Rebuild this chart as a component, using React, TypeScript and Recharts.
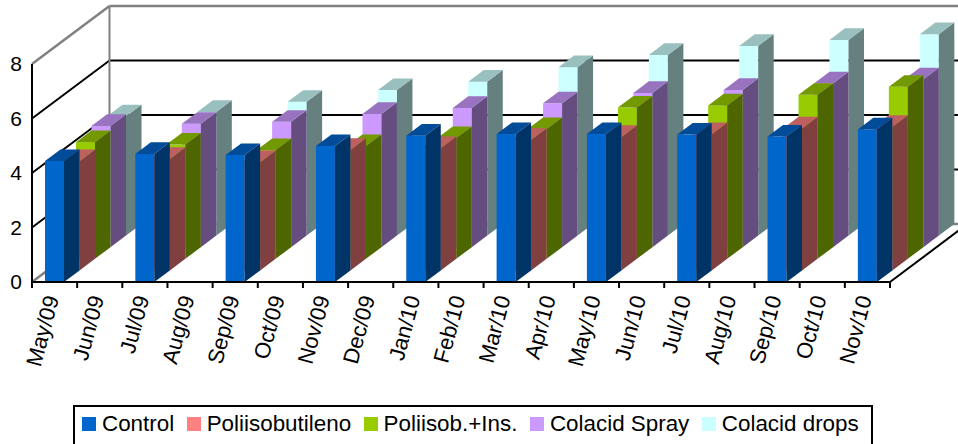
import React from 'react';
import { BarChart, Bar, XAxis, YAxis, CartesianGrid } from 'recharts';

const months = ['May/09', 'Jun/09', 'Jul/09', 'Aug/09', 'Sep/09', 'Oct/09', 'Nov/09', 'Dec/09', 'Jan/10', 'Feb/10', 'Mar/10', 'Apr/10', 'May/10', 'Jun/10', 'Jul/10', 'Aug/10', 'Sep/10', 'Oct/10', 'Nov/10'];
const control = [4.44, null, 4.70, null, 4.66, null, 4.99, null, 5.37, null, 5.43, null, 5.43, null, 5.41, null, 5.34, null, 5.6];
const poliisobutileno = [4.01, null, 4.09, null, 3.97, null, 4.42, null, 4.49, null, 4.79, null, 4.9, null, 5.0, null, 5.21, null, 5.27];
const poliisobIns = [4.28, null, 4.19, null, 3.99, null, 4.14, null, 4.43, null, 4.76, null, 5.55, null, 5.63, null, 6.02, null, 6.31];
const colacidSpray = [4.45, null, 4.53, null, 4.6, null, 4.89, null, 5.11, null, 5.28, null, 5.66, null, 5.77, null, 6.01, null, 6.16];
const colacidDrops = [4.38, null, 4.54, null, 4.91, null, 5.34, null, 5.65, null, 6.18, null, 6.63, null, 6.96, null, 7.18, null, 7.39];
const yTicks = [0, 2, 4, 6, 8];

const series = [
  { key: 'control', name: 'Control', values: control, front: '#0066CC', side: '#003366', top: '#004C99' },
  { key: 'poli', name: 'Poliisobutileno', values: poliisobutileno, front: '#FF8080', side: '#804040', top: '#BF6060' },
  { key: 'ins', name: 'Poliisob.+Ins.', values: poliisobIns, front: '#99CC00', side: '#4D6600', top: '#739900' },
  { key: 'spray', name: 'Colacid Spray', values: colacidSpray, front: '#CC99FF', side: '#664D80', top: '#9973BF' },
  { key: 'drops', name: 'Colacid drops', values: colacidDrops, front: '#CCFFFF', side: '#668080', top: '#99BFBF' },
];

const data = months.map((month, i) => {
  const row: Record<string, string | number | null> = { month };
  series.forEach(s => { row[s.key] = s.values[i]; });
  return row;
});

const WIDTH = 958;
const HEIGHT = 444;
const PLOT_LEFT = 32;
const PLOT_RIGHT = 890;
const PLOT_TOP = 64;
const PLOT_BOTTOM = 282;
const BAND = (PLOT_RIGHT - PLOT_LEFT) / months.length;

// one series step into the chart
const STEP_X = 15.5;
const STEP_Y = 11.6;
const WALL_X = STEP_X * 5;
const WALL_Y = STEP_Y * 5;

const GRAY = '#808080';

// box drawn from the rectangle the Bar computes, pushed back by series depth
function makeBox(depth: number, s: typeof series[number]) {
  return (props: any) => {
    if (props.payload[s.key] == null) return <g />;
    const x = props.x + depth * STEP_X;
    const y = props.y - depth * STEP_Y;
    const w = props.width;
    const h = props.height;
    const r = x + w;
    const b = y + h;
    return (
      <g>
        <rect x={x} y={y} width={w} height={h} fill={s.front} />
        <polygon points={`${r},${y} ${r + STEP_X},${y - STEP_Y} ${r + STEP_X},${b - STEP_Y} ${r},${b}`} fill={s.side} />
        <polygon points={`${x},${y} ${x + STEP_X},${y - STEP_Y} ${r + STEP_X},${y - STEP_Y} ${r},${y}`} fill={s.top} />
      </g>
    );
  };
}

// each horizontal grid line becomes a line on the left wall and one on the back wall
const WallLine = (props: any) => {
  const y = props.y1;
  const isTop = Math.abs(y - PLOT_TOP) < 1;
  const isFloor = Math.abs(y - PLOT_BOTTOM) < 1;
  const backY = y - WALL_Y;
  const backX = PLOT_LEFT + WALL_X;
  const color = isTop || isFloor ? GRAY : '#000';
  const weight = isTop || isFloor ? 2.5 : 2;
  return (
    <g>
      <line x1={PLOT_LEFT} y1={y} x2={backX} y2={backY} stroke={color} strokeWidth={weight} />
      <line x1={backX} y1={backY} x2={WIDTH} y2={backY} stroke={color} strokeWidth={weight} />
      {isTop && <line x1={backX} y1={backY} x2={backX} y2={PLOT_BOTTOM - WALL_Y} stroke={GRAY} strokeWidth={2} />}
      {isFloor && <line x1={PLOT_RIGHT} y1={y} x2={PLOT_RIGHT + WALL_X} y2={backY} stroke="#000" strokeWidth={2} />}
    </g>
  );
};

const MonthTick = (props: any) => {
  const { x, payload, index } = props;
  const left = x - BAND / 2;
  const labelX = x + 4.5;
  const labelY = PLOT_BOTTOM + 16;
  return (
    <g>
      <line x1={left} y1={PLOT_BOTTOM} x2={left} y2={PLOT_BOTTOM + 6} stroke="#000" strokeWidth={2} />
      {index === months.length - 1 && (
        <line x1={x + BAND / 2} y1={PLOT_BOTTOM} x2={x + BAND / 2} y2={PLOT_BOTTOM + 6} stroke="#000" strokeWidth={2} />
      )}
      <text x={labelX} y={labelY} textAnchor="end" fontSize={22} fill="#000" transform={`rotate(-75 ${labelX} ${labelY})`}>
        {payload.value}
      </text>
    </g>
  );
};

const App = () => {
  return (
    <div style={{ position: 'absolute', left: 0, top: 0, width: WIDTH, height: HEIGHT, overflow: 'hidden', fontFamily: '"Liberation Sans", Arial, sans-serif' }}>
      <BarChart
        width={WIDTH}
        height={HEIGHT}
        data={data}
        barSize={19}
        barGap={-19}
        margin={{ top: PLOT_TOP, right: WIDTH - PLOT_RIGHT, bottom: 82, left: 0 }}
      >
        <CartesianGrid vertical={false} horizontal={WallLine} syncWithTicks />
        <XAxis dataKey="month" interval={0} height={80} tick={MonthTick} tickLine={false} axisLine={{ stroke: '#000', strokeWidth: 2 }} />
        <YAxis
          width={PLOT_LEFT}
          domain={[0, 8]}
          ticks={yTicks}
          tickLine={false}
          tickSize={0}
          tickMargin={10}
          tick={{ fontSize: 21, fill: '#000' }}
          axisLine={{ stroke: '#000', strokeWidth: 2 }}
        />
        {/* back series first so the nearer ones paint over them */}
        {series.map((s, i) => ({ s, i })).reverse().map(({ s, i }) => (
          <Bar key={s.key} dataKey={s.key} name={s.name} shape={makeBox(i, s)} isAnimationActive={false} />
        ))}
      </BarChart>
      <div style={{ position: 'absolute', left: 73, top: 405, width: 800, height: 60, border: '2px solid #000', display: 'flex', alignItems: 'flex-start', gap: 12.5, paddingLeft: 7, paddingTop: 4, fontSize: 22.4, color: '#000', boxSizing: 'border-box', lineHeight: '25px' }}>
        {series.map(s => (
          <span key={s.key} style={{ display: 'flex', alignItems: 'center', whiteSpace: 'nowrap' }}>
            <span style={{ width: 14, height: 14, background: s.front, marginRight: 6, display: 'inline-block' }} />
            {s.name}
          </span>
        ))}
      </div>
    </div>
  );
};

export default App;
